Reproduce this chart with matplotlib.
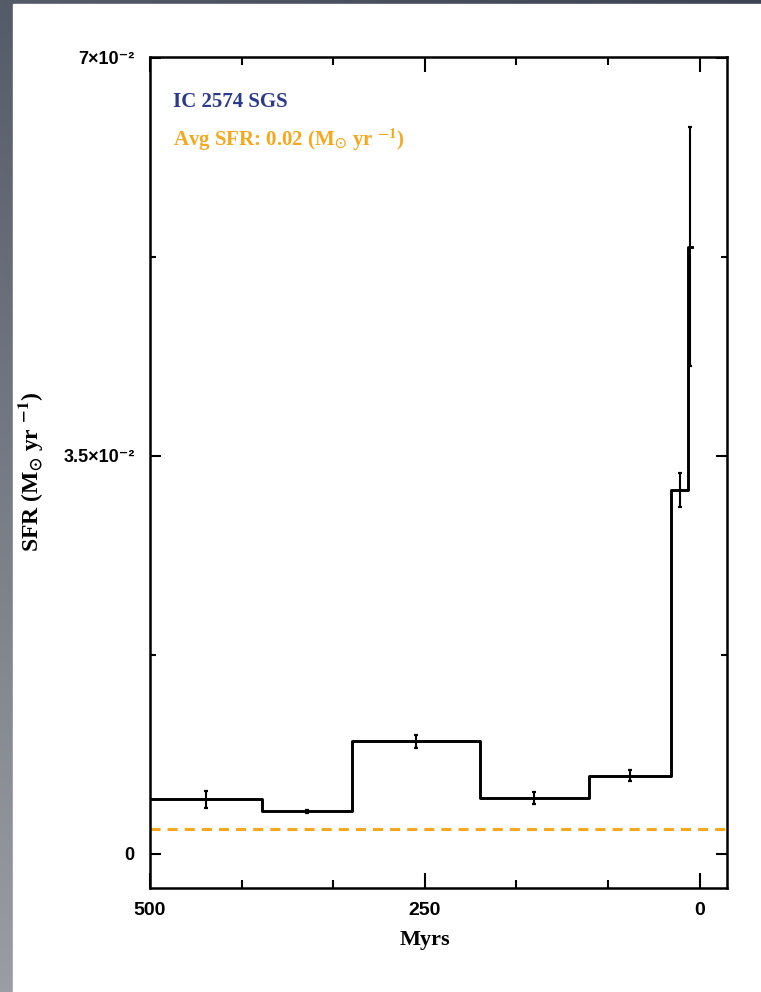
import numpy as np
import matplotlib
matplotlib.use("Agg")
import matplotlib.pyplot as plt
from matplotlib.patches import Rectangle
from matplotlib.ticker import FixedLocator, MultipleLocator

# star formation history, bins in Myr (lookback time)
bin_edges = [500, 398, 316.5, 200, 100.4, 25.5, 10.4, 7.0]
sfr = [0.00478, 0.00373, 0.00987, 0.00492, 0.00686, 0.0320, 0.0534]
sfr_err = [0.00076, 0.00015, 0.00057, 0.00053, 0.00048, 0.0015, 0.0105]
avg_sfr = 0.0022

y_ticks = [0, 0.035, 0.07]
y_ticklabels = ["0", "3.5\u00d710\u207b\u00b2", "7\u00d710\u207b\u00b2"]
x_ticks = [500, 250, 0]
x_ticklabels = ["500", "250", "0"]

plt.rcParams["mathtext.fontset"] = "stix"
plt.rcParams["mathtext.bf"] = "STIXGeneral:bold"
serif = ["Liberation Serif", "DejaVu Serif"]
sans = ["Liberation Sans", "DejaVu Sans"]

W, H = 761, 992
fig = plt.figure(figsize=(W / 100, H / 100), dpi=100)

# grey slide background with white panel
bg = fig.add_axes([0, 0, 1, 1])
yy, xx = np.mgrid[0:1:200j, 0:1:200j]
tl = np.array([0x55, 0x5b, 0x68]) / 255
tr = np.array([0x3c, 0x43, 0x52]) / 255
bl = np.array([0x9a, 0x9d, 0xa3]) / 255
br = np.array([0x9a, 0x9d, 0xa3]) / 255
grad = ((1 - xx)[..., None] * (1 - yy)[..., None] * tl + xx[..., None] * (1 - yy)[..., None] * tr
        + (1 - xx)[..., None] * yy[..., None] * bl + xx[..., None] * yy[..., None] * br)
bg.imshow(grad, extent=[0, 1, 0, 1], aspect="auto", origin="upper")
bg.add_patch(Rectangle((13 / W, 0), 1, 1 - 4 / H, color="white"))
bg.set_xlim(0, 1)
bg.set_ylim(0, 1)
bg.axis("off")

ax = fig.add_axes([150 / W, 1 - 888 / H, 577 / W, 831.3 / H])
ax.set_facecolor("none")

# histogram outline
step_x = bin_edges
step_y = sfr + [sfr[-1]]
ax.plot(step_x, step_y, drawstyle="steps-post", color="black", lw=2.1)

centers = [(bin_edges[i] + bin_edges[i + 1]) / 2 for i in range(len(sfr))]
ax.errorbar(centers, sfr, yerr=sfr_err, fmt="none", ecolor="black",
            elinewidth=1.5, capsize=1.6, capthick=1.6)

ax.axhline(avg_sfr, color="#f6a81c", lw=2.2, dashes=(3.3, 2.3))

ax.set_xlim(500, -25)
ax.set_ylim(-0.00302, 0.0701)

ax.xaxis.set_major_locator(FixedLocator(x_ticks))
ax.xaxis.set_minor_locator(MultipleLocator(250 / 3))
ax.set_xticklabels(x_ticklabels, family=sans, fontsize=14, fontweight="bold")
ax.yaxis.set_major_locator(FixedLocator(y_ticks))
ax.yaxis.set_minor_locator(FixedLocator([0.0175, 0.0525]))
ax.set_yticklabels(y_ticklabels, family=sans, fontsize=13, fontweight="bold")

ax.tick_params(axis="both", which="both", direction="in", top=True, right=True, width=1.5)
ax.tick_params(axis="x", which="major", length=11, pad=10)
ax.tick_params(axis="x", which="minor", length=6)
ax.tick_params(axis="y", which="major", length=8, pad=11)
ax.tick_params(axis="y", which="minor", length=4.5)
for s in ax.spines.values():
    s.set_linewidth(1.8)

ax.set_xlabel(r"Myrs", family=serif, fontsize=16, fontweight="bold")
ax.xaxis.set_label_coords(275 / 577, -42 / 831.3)
ax.set_ylabel(r"SFR (M$_\mathbf{\odot}$ yr $^{\mathbf{-1}}$)", family=serif, fontsize=17,
              fontweight="bold")
ax.yaxis.set_label_coords(-105 / 577, 0.5)

ax.text(0.04, 0.945, "IC 2574 SGS", transform=ax.transAxes, family=serif,
        fontsize=15, fontweight="bold", color="#2b3a8c", va="center")
ax.text(0.04, 0.9, r"Avg SFR: 0.02 (M$_\mathbf{\odot}$ yr $^{\mathbf{-1}}$)",
        transform=ax.transAxes, family=serif, fontsize=15, fontweight="bold",
        color="#f6a81c", va="center")

fig.savefig("out.png", dpi=100)
